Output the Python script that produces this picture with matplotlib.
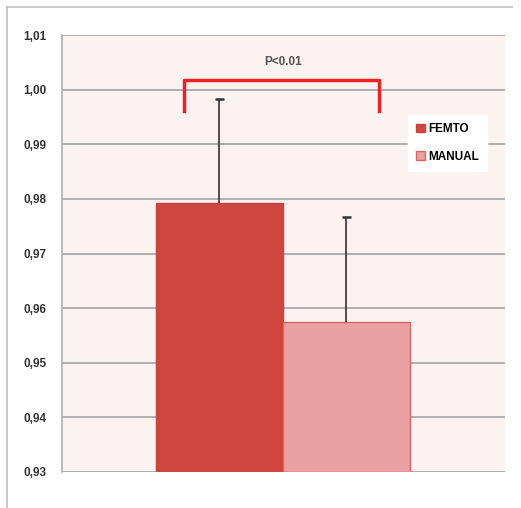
import matplotlib
matplotlib.use("Agg")
import matplotlib.pyplot as plt
from matplotlib.lines import Line2D
from matplotlib.patches import Patch

categories = ["FEMTO", "MANUAL"]
values = [0.9793, 0.9574]
errors = [0.0190, 0.0193]
yticks = [0.93, 0.94, 0.95, 0.96, 0.97, 0.98, 0.99, 1.00, 1.01]
ytick_labels = ["0,93", "0,94", "0,95", "0,96", "0,97", "0,98", "0,99", "1,00", "1,01"]
annotation = "P<0.01"

plt.rcParams["font.family"] = ["Liberation Sans", "DejaVu Sans"]

fig = plt.figure(figsize=(5.21, 5.08), dpi=100)
fig.patch.set_facecolor("white")
ax = fig.add_axes([62/521, 36/508, 443/521, 437/508])
ax.set_facecolor("#fbf2f2")

face = ["#d0463f", "#eaa1a1"]
edge = ["#c8403a", "#dc6462"]
xs = [0, 1]
for x, v, e, fc, ec, lab in zip(xs, values, errors, face, edge, categories):
    ax.bar(x, v - 0.93, bottom=0.93, width=1.0, color=fc, edgecolor=ec, linewidth=1.0, label=lab, zorder=3)
    ax.vlines(x, v, v + e, color="#333333", linewidth=1.2, zorder=4)
    ax.hlines(v + e, x - 0.035, x + 0.035, color="#333333", linewidth=1.8, zorder=4)

ax.set_ylim(0.93, 1.01)
ax.set_xlim(-1.24, 2.248)
ax.set_yticks(yticks)
ax.set_yticklabels(ytick_labels, fontsize=8.5, fontweight="bold", color="#333333")
ax.set_xticks([])
ax.yaxis.grid(True, color="#a9a9a9", linewidth=1.3, zorder=0)
ax.set_axisbelow(True)
for s in ["top", "right", "bottom"]:
    ax.spines[s].set_visible(False)
ax.spines["left"].set_color("#b0b0b0")
ax.spines["left"].set_linewidth(1.2)
ax.tick_params(axis="y", length=0, pad=11)

# bracket
bx0, bx1 = -0.28, 1.256
ax.plot([bx0, bx0, bx1, bx1], [0.9960, 1.0017, 1.0017, 0.9960], color="#ee2222", linewidth=2.5,
        solid_joinstyle="round", zorder=5, clip_on=False)
ax.text(0.5, 1.0050, annotation, ha="center", va="center", fontsize=8.5, fontweight="bold", color="#555555")

handles = [Patch(facecolor=face[i], edgecolor=edge[i]) for i in range(2)]
leg = ax.legend(handles, categories, loc="upper left", bbox_to_anchor=((408-62)/443, (472-115)/437),
                frameon=True, fancybox=False, framealpha=1.0, edgecolor="white", facecolor="white",
                prop={"weight": "bold", "size": 8.5}, handlelength=0.7, handleheight=0.7, handletextpad=0.3,
                labelspacing=1.3, borderpad=0.7, borderaxespad=0)
leg.set_zorder(6)

# outer frame
fig.add_artist(Line2D([7/521, 7/521], [0, 1 - 7/508], color="#c0c0c0", linewidth=1.2))
fig.add_artist(Line2D([7/521, 512/521], [1 - 7/508, 1 - 7/508], color="#c0c0c0", linewidth=1.2))

fig.savefig("out.png", dpi=100, facecolor="white")
